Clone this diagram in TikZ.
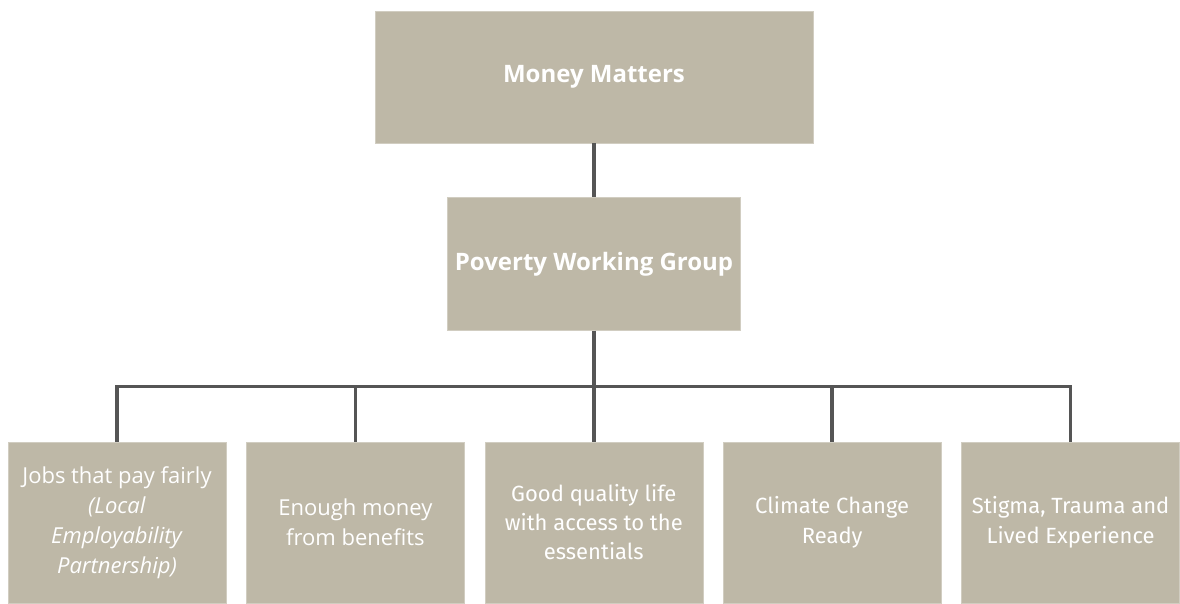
\documentclass[tikz,border=0pt]{standalone}
\usepackage{fontspec}
\setmainfont{Open Sans}
\newfontfamily\condfont{Fira Sans}
\usetikzlibrary{positioning}

\definecolor{stone}{RGB}{190,184,167}
\definecolor{linkgrey}{RGB}{85,85,85}

\tikzset{
  topbox/.style={rectangle, fill=stone, draw=stone!70!white, text=white,
    font=\fontsize{24}{28}\selectfont\bfseries, inner sep=2pt},
  aimbox/.style={rectangle, fill=stone, draw=stone!70!white, text=white, align=center,
    minimum width=218pt, minimum height=161pt, inner sep=2pt,
    font=\fontsize{22}{30}\selectfont},
  link/.style={draw=linkgrey, line width=3.6pt}
}

\begin{document}
\begin{tikzpicture}[node distance=20pt]
  \useasboundingbox (0,0) rectangle (1180pt,603pt);
  \node[topbox, minimum width=438pt, minimum height=132pt] (mm) at (594pt,526pt) {Money Matters};
  \node[topbox, minimum width=293pt, minimum height=133pt] (pwg) [below=54pt of mm] {Poverty Working Group};
  \coordinate[below=56pt of pwg] (hub);
  \node[aimbox] (jobs) at (593pt,80.5pt) [xshift=-476pt] {Jobs that pay fairly\\\textit{(Local}\\\textit{Employability}\\\textit{Partnership)}};
  \node[aimbox] (benefits) [right=of jobs] {Enough money\\from benefits};
  \node[aimbox, font=\fontsize{22}{29}\selectfont\condfont] (life) [right=of benefits] {Good quality life\\with access to the\\essentials};
  \node[aimbox, font=\fontsize{22}{30}\selectfont\condfont] (climate) [right=of life] {Climate Change\\Ready};
  \node[aimbox, font=\fontsize{22}{30}\selectfont\condfont] (stigma) [right=of climate] {Stigma, Trauma and\\Lived Experience};
  % connectors
  \draw[link] (mm) -- (pwg);
  \draw[link] (pwg) -- (hub);
  \foreach \aim in {jobs,benefits,life,climate,stigma}
    \draw[link] (hub) -| (\aim.north);
\end{tikzpicture}
\end{document}
